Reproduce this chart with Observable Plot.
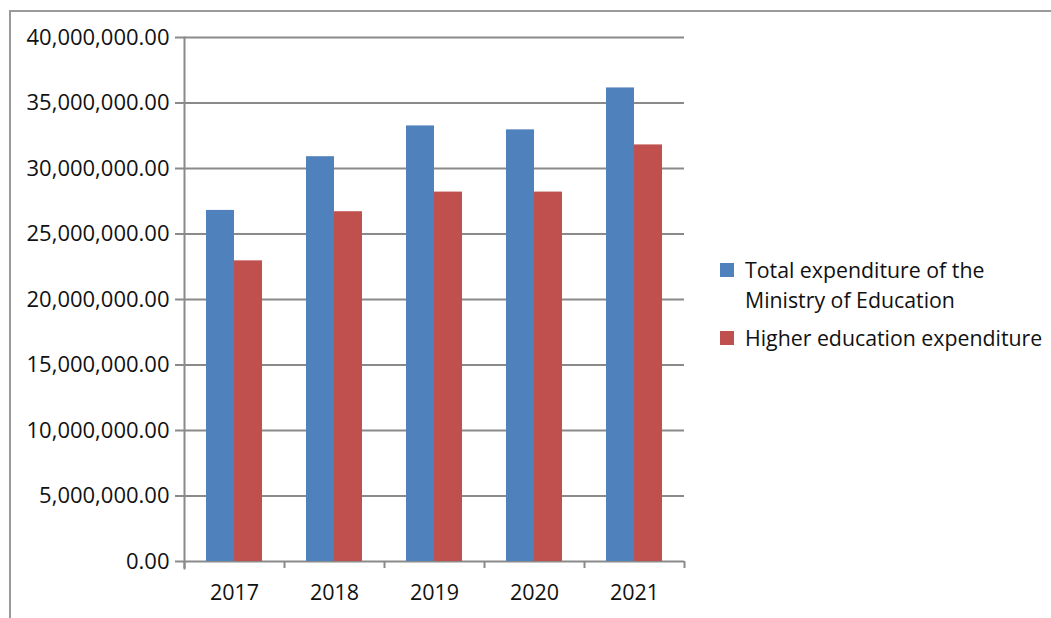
<!DOCTYPE html>
<html>
<head>
<meta charset="utf-8">
<script src="https://cdn.jsdelivr.net/npm/d3@7"></script>
<script src="https://cdn.jsdelivr.net/npm/@observablehq/plot@0.6"></script>
<style>
  html, body { margin: 0; padding: 0; background: #fff; }
  #wrap { position: relative; width: 1051px; height: 618px; overflow: hidden; font-family: "Open Sans", sans-serif; }
  #frame { position: absolute; left: 9px; top: 10px; width: 1100px; height: 700px; border-top: 2px solid #9a9a9a; border-left: 2px solid #9a9a9a; box-sizing: border-box; }
  #chart { position: absolute; left: 0; top: 0; }
  #legend { position: absolute; left: 720px; top: 255px; font-size: 21.3px; color: #111; line-height: 30px; }
  .item { display: flex; align-items: flex-start; margin-bottom: 8px; }
  .sw { width: 14px; height: 14px; margin-top: 8px; margin-right: 11px; flex: none; }
</style>
</head>
<body>
<div id="wrap">
  <div id="frame"></div>
  <div id="chart"></div>
  <div id="legend"></div>
</div>
<script>
const years = ["2017", "2018", "2019", "2020", "2021"];
const totalExpenditure = [26800000, 30900000, 33250000, 32950000, 36150000];
const higherEdExpenditure = [22950000, 26700000, 28200000, 28200000, 31800000];
const seriesNames = ["Total expenditure of the Ministry of Education", "Higher education expenditure"];
const seriesLegendLines = [["Total expenditure of the", "Ministry of Education"], ["Higher education expenditure"]];
const seriesColors = ["#4f81bd", "#c0504d"];
const yTicks = [0, 5000000, 10000000, 15000000, 20000000, 25000000, 30000000, 35000000, 40000000];

const totalRows = years.map((y, i) => ({year: y, value: totalExpenditure[i]}));
const higherRows = years.map((y, i) => ({year: y, value: higherEdExpenditure[i]}));

const W = 1051, H = 618;
const mL = 184, mR = 367, mT = 37, mB = 57;
const step = (W - mL - mR) / years.length;
const halfBand = step * 0.56 / 2;
const grid = "#8a8a8a";

const chart = Plot.plot({
  width: W,
  height: H,
  marginLeft: mL,
  marginRight: mR,
  marginTop: mT,
  marginBottom: mB,
  style: {fontFamily: "'Open Sans', sans-serif", fontSize: "21.5px", color: "#111", background: "transparent"},
  x: {domain: years, paddingInner: 0.44, paddingOuter: 0.22, label: null},
  y: {domain: [0, 40000000], label: null},
  marks: [
    Plot.ruleY(yTicks, {stroke: grid, strokeWidth: 2}),
    Plot.barY(totalRows, {x: "year", y: "value", fill: seriesColors[0], insetRight: halfBand}),
    Plot.barY(higherRows, {x: "year", y: "value", fill: seriesColors[1], insetLeft: halfBand}),
    Plot.frame({anchor: "left", stroke: grid, strokeWidth: 2, insetBottom: -7}),
    Plot.axisY({ticks: yTicks, tickSize: 9, tickPadding: 6, tickFormat: d3.format(",.2f"), stroke: grid, strokeWidth: 2, fill: "#111", fontSize: 22}),
    Plot.axisX({ticks: years, tickSize: 7, dx: -step / 2, text: null, stroke: grid, strokeWidth: 2}),
    Plot.axisX({ticks: years.slice(-1), tickSize: 7, dx: step / 2, text: null, stroke: grid, strokeWidth: 2}),
    Plot.axisX({ticks: years, tickSize: 0, tickPadding: 23, fill: "#111"})
  ]
});
document.getElementById("chart").appendChild(chart);

const legend = document.getElementById("legend");
seriesNames.forEach((name, i) => {
  const item = document.createElement("div");
  item.className = "item";
  const sw = document.createElement("div");
  sw.className = "sw";
  sw.style.background = seriesColors[i];
  const label = document.createElement("div");
  label.innerHTML = seriesLegendLines[i].join("<br>");
  label.title = name;
  item.appendChild(sw);
  item.appendChild(label);
  legend.appendChild(item);
});
</script>
</body>
</html>
